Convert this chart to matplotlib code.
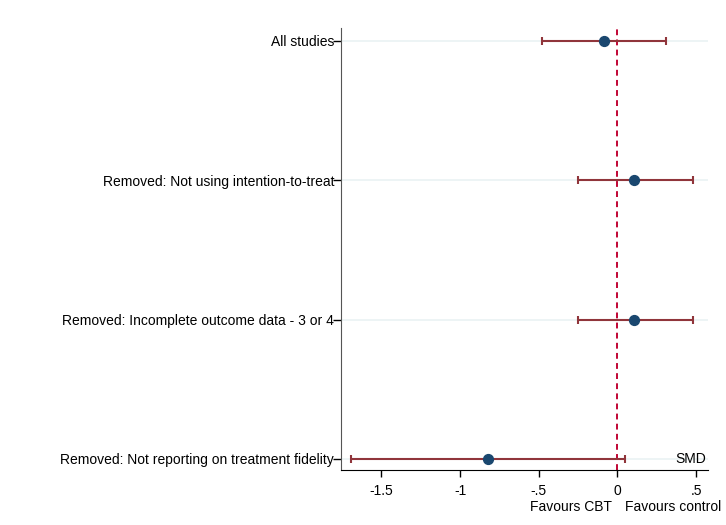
import numpy as np
import matplotlib.pyplot as plt

plt.rcParams["font.family"] = ["Liberation Sans", "DejaVu Sans"]

labels = [
    "All studies",
    "Removed: Not using intention-to-treat",
    "Removed: Incomplete outcome data - 3 or 4",
    "Removed: Not reporting on treatment fidelity",
]
smd = [-0.086, 0.105, 0.105, -0.82]
ci_low = [-0.48, -0.25, -0.25, -1.69]
ci_high = [0.31, 0.48, 0.48, 0.05]

xticks = [-1.5, -1, -0.5, 0, 0.5]
xtick_labels = ["-1.5", "-1", "-.5", "0", ".5"]

ypos = np.arange(len(labels), 0, -1)
smd = np.array(smd)
err = np.vstack([smd - np.array(ci_low), np.array(ci_high) - smd])

fig = plt.figure(figsize=(7.26, 5.25), dpi=100)
ax = fig.add_axes([0.4697, 0.1048, 0.5055, 0.8419])

for y in ypos:
    ax.axhline(y, color="#eaf2f3", lw=1.2, zorder=0)

ax.axvline(0, color="#c10534", lw=1.4, ls=(0, (3, 2.2)), zorder=1)
ax.errorbar(smd, ypos, xerr=err, fmt="none", ecolor="#90353b", elinewidth=1.5,
            capsize=3.2, capthick=1.5, zorder=2)
ax.scatter(smd, ypos, s=50, color="#1a476f", zorder=3)

ax.set_xlim(-1.756, 0.575)
ax.set_ylim(0.921, 4.093)
ax.set_yticks(ypos)
ax.set_yticklabels(labels)
ax.set_xticks(xticks)
ax.set_xticklabels(xtick_labels)
ax.tick_params(axis="both", labelsize=10, colors="black", direction="out")
ax.tick_params(axis="y", length=6, width=1, pad=-1)
ax.tick_params(axis="x", length=5, width=1, pad=5)

for side in ["top", "right"]:
    ax.spines[side].set_visible(False)
ax.spines["left"].set_color("#555555")
ax.spines["bottom"].set_color("black")

ax.text(0.565, ypos[-1], "SMD", ha="right", va="center", fontsize=10)
ax.text(-0.035, -0.068, "Favours CBT", transform=ax.get_xaxis_transform(),
        ha="right", va="top", fontsize=10)
ax.text(0.045, -0.068, "Favours control", transform=ax.get_xaxis_transform(),
        ha="left", va="top", fontsize=10, clip_on=False)

fig.savefig("out.png", dpi=100)
